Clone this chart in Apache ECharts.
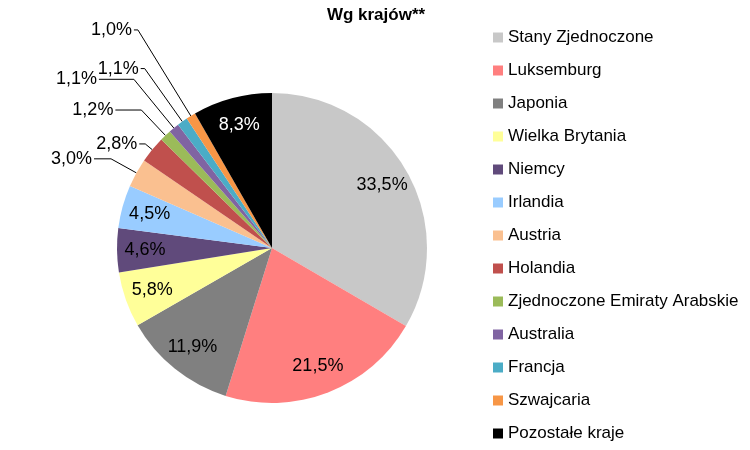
<!DOCTYPE html>
<html>
<head>
<meta charset="utf-8">
<script src="https://cdn.jsdelivr.net/npm/echarts@6/dist/echarts.min.js"></script>
<style>
  html, body { margin: 0; padding: 0; background: #fff; }
  #chart { width: 750px; height: 450px; }
</style>
</head>
<body>
<div id="chart"></div>
<script>
const titleText = 'Wg krajów**';
const categories = ['Stany Zjednoczone', 'Luksemburg', 'Japonia', 'Wielka Brytania', 'Niemcy', 'Irlandia', 'Austria', 'Holandia', 'Zjednoczone Emiraty Arabskie', 'Australia', 'Francja', 'Szwajcaria', 'Pozostałe kraje'];
const values = [33.5, 21.5, 11.9, 5.8, 4.6, 4.5, 3.0, 2.8, 1.2, 1.1, 1.1, 1.0, 8.3];

// styling (not data)
const colors = ['#c8c8c8', '#ff7f7f', '#808080', '#ffff99', '#604a7b', '#99ccff', '#fac090', '#c0504d', '#9bbb59', '#8064a2', '#4bacc6', '#f79646', '#000000'];
const insideLabel = [true, true, true, true, true, true, false, false, false, false, false, false, true];
const labelColors = ['#000', '#000', '#000', '#000', '#000', '#000', '#000', '#000', '#000', '#000', '#000', '#000', '#fff'];
// leader line lengths (radial part, horizontal part) for the outside labels
const leaderLen  = [0, 0, 0, 0, 0, 0, 29, 9, 35, 63, 65, 101, 0];
const leaderLen2 = [0, 0, 0, 0, 0, 0, 17, 6, 26, 35, 4, 4, 0];

const fmt = v => v.toFixed(1).replace('.', ',') + '%';
const FONT = 'Liberation Sans, Arial, sans-serif';
const center = [272, 248];
const R = 155;

const chart = echarts.init(document.getElementById('chart'), null, { renderer: 'canvas' });

const mainData = categories.map((n, i) => ({ name: n, value: values[i], itemStyle: { color: colors[i] } }));
const insideData = categories.map((n, i) => ({
  name: n, value: values[i],
  label: { show: insideLabel[i], color: labelColors[i] }
}));
const outsideData = categories.map((n, i) => ({
  name: n, value: values[i],
  label: { show: !insideLabel[i] },
  labelLine: { show: !insideLabel[i], length: leaderLen[i], length2: leaderLen2[i] }
}));

chart.setOption({
  animation: false,
  backgroundColor: '#fff',
  title: {
    text: titleText, left: 371, top: 2, textAlign: 'center',
    textStyle: { fontFamily: FONT, fontSize: 17, fontWeight: 'bold', color: '#000' }
  },
  legend: {
    orient: 'vertical', left: 488, top: 24,
    itemWidth: 10, itemHeight: 10, itemGap: 16,
    icon: 'rect',
    data: categories,
    textStyle: { fontFamily: FONT, fontSize: 17, color: '#000', lineHeight: 17 }
  },
  series: [
    {
      type: 'pie', center: center, radius: [0, R], startAngle: 90, clockwise: true,
      silent: true, label: { show: false }, labelLine: { show: false },
      itemStyle: { borderWidth: 0 },
      data: mainData
    },
    {
      type: 'pie', center: center, radius: [93, R], startAngle: 90, clockwise: true,
      silent: true, itemStyle: { color: 'rgba(0,0,0,0)', borderWidth: 0 },
      label: { position: 'inside', fontFamily: FONT, fontSize: 18, formatter: p => fmt(p.value) },
      labelLine: { show: false },
      data: insideData
    },
    {
      type: 'pie', center: center, radius: [0, R], startAngle: 90, clockwise: true,
      silent: true, avoidLabelOverlap: false,
      itemStyle: { color: 'rgba(0,0,0,0)', borderWidth: 0 },
      label: { position: 'outside', fontFamily: FONT, fontSize: 18, color: '#000', formatter: p => fmt(p.value), distanceToLabelLine: 2 },
      labelLine: { lineStyle: { color: '#000', width: 1 } },
      data: outsideData
    }
  ]
});
</script>
</body>
</html>
